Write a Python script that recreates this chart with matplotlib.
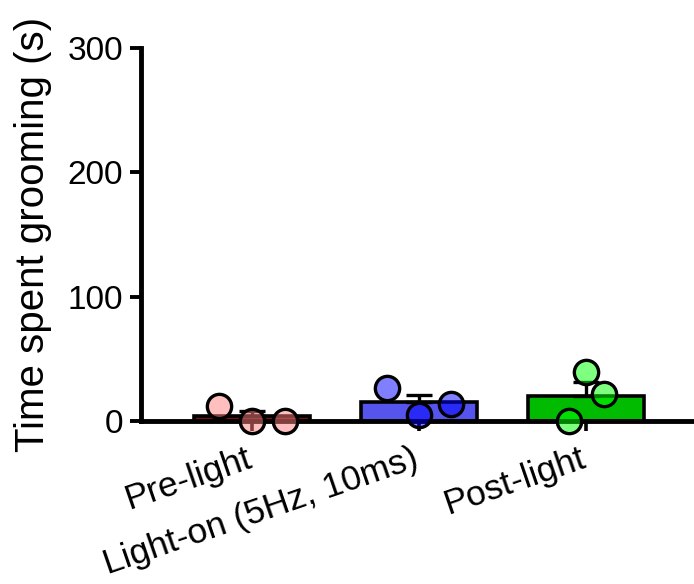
import numpy as np
import matplotlib
matplotlib.use("Agg")
import matplotlib.pyplot as plt
from matplotlib.transforms import ScaledTranslation

# group names and individual animals (s)
groups = ["Pre-light", "Light-on (5Hz, 10ms)", "Post-light"]
pre_light = [12, 0, 0]
light_on = [26.5, 5, 13.7]
post_light = [39.4, 21.7, 0]
values = [pre_light, light_on, post_light]

# horizontal spread of the dots inside each bar
jitter = [[-0.2, 0, 0.2], [-0.19, 0, 0.19], [0, 0.11, -0.1]]

bar_colors = ["#7A1010", "#5555EE", "#00BB00"]
dot_colors = ["#FF8080", "#0000FF", "#00FF00"]

yticks = [0, 100, 200, 300]

plt.rcParams["font.family"] = ["Liberation Sans", "DejaVu Sans"]

fig = plt.figure(figsize=(6.94, 5.84), dpi=100)
ax = fig.add_axes([141 / 694, 163 / 584, 1 - 141 / 694, 373 / 584])

x = np.arange(len(groups))
means = [np.mean(v) for v in values]
sems = [np.std(v, ddof=1) / np.sqrt(len(v)) for v in values]

ax.bar(x, means, width=0.69, color=bar_colors, edgecolor="black",
       linewidth=2.6, zorder=2)
ax.errorbar(x, means, yerr=[np.zeros(len(x)), sems], fmt="none",
            ecolor="black", elinewidth=2.4, capsize=9.5, capthick=2.4, zorder=3)

for i, vals in enumerate(values):
    for v, dx in zip(vals, jitter[i]):
        ax.plot(x[i] + dx, v, "o", markersize=17.5, markerfacecolor=dot_colors[i],
                alpha=0.5, markeredgecolor="none", zorder=4, clip_on=False)
        ax.plot(x[i] + dx, v, "o", markersize=17.5, markerfacecolor="none",
                markeredgecolor="black", markeredgewidth=2.4, zorder=5,
                clip_on=False)

ax.set_xlim(-0.665, 2.647)
ax.set_ylim(0, 300)
ax.set_yticks(yticks)
ax.set_xticks(x)
ax.set_xticklabels(groups, rotation=19, ha="right", va="top",
                   rotation_mode="anchor", fontsize=25.5)
ax.tick_params(axis="y", labelsize=24, width=2.8, length=8, pad=5)
ax.tick_params(axis="x", width=2.6, length=7, pad=8)
ax.set_ylabel("Time spent grooming (s)", fontsize=29, labelpad=11)

# nudge the slanted labels a little to the left
shift = ScaledTranslation(-5 / 72, 0, fig.dpi_scale_trans)
for lab in ax.get_xticklabels():
    lab.set_transform(lab.get_transform() + shift)

for side in ["top", "right"]:
    ax.spines[side].set_visible(False)
for side in ["left", "bottom"]:
    ax.spines[side].set_linewidth(3.5)

fig.savefig("out.png", dpi=100)
